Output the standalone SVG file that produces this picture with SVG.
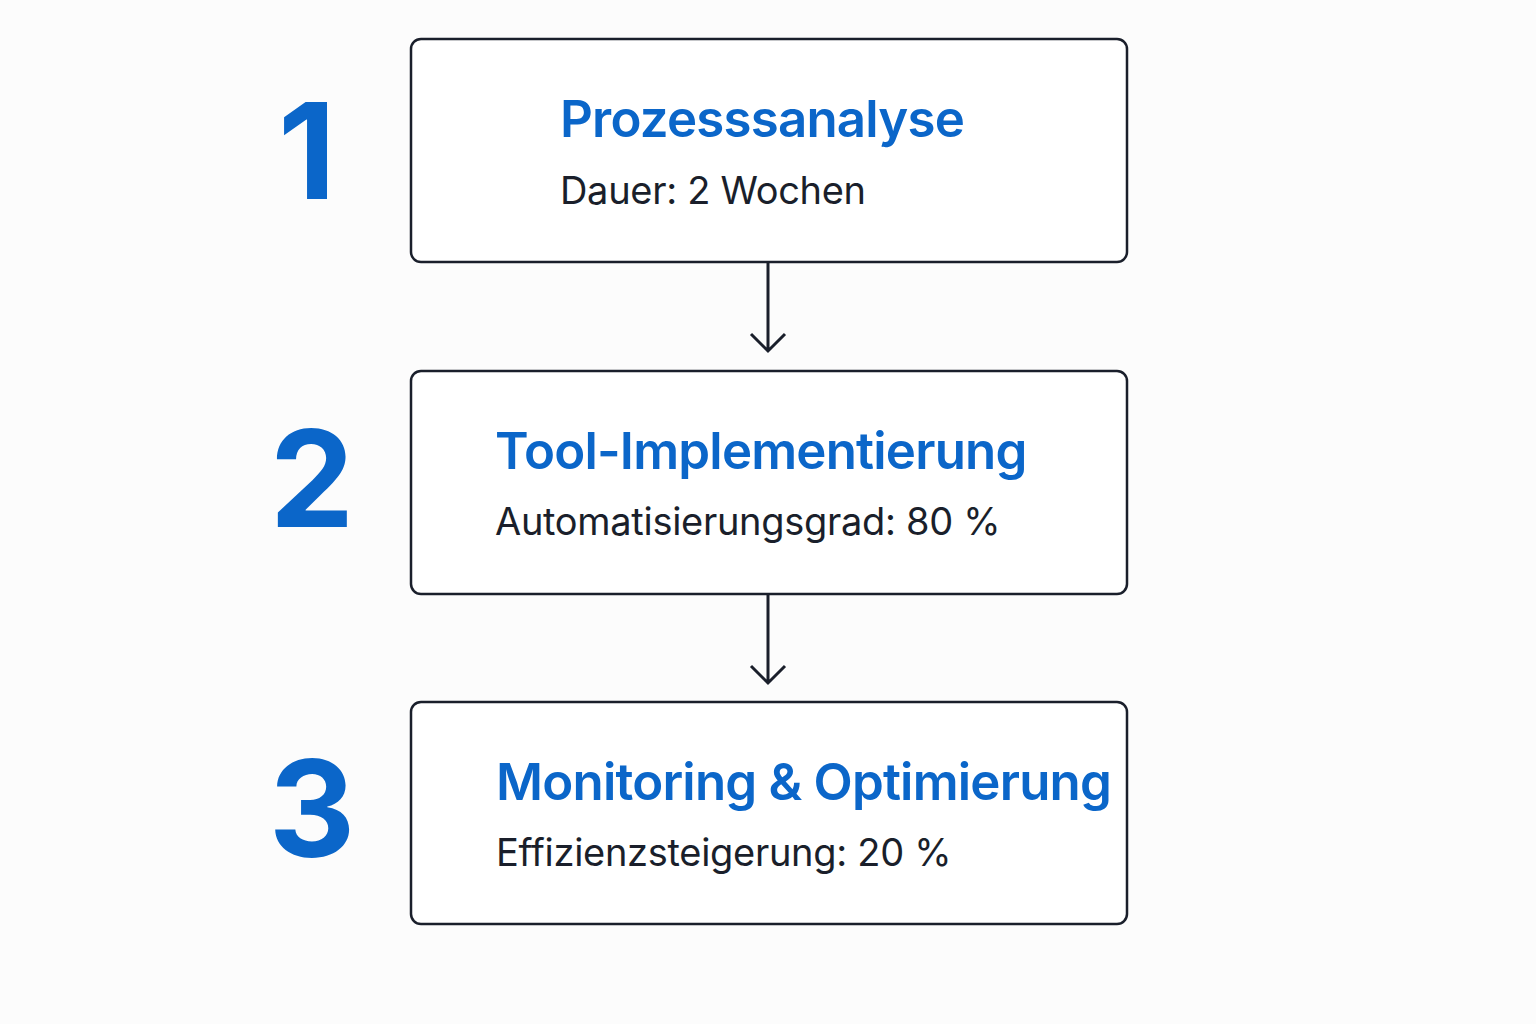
<svg xmlns="http://www.w3.org/2000/svg" width="1536" height="1024" viewBox="0 0 1536 1024">
<style>
.box{fill:#fff;stroke:#1a1f2b;stroke-width:2.5}
.num{font-family:Inter,"Liberation Sans",sans-serif;font-weight:700;font-size:134px;fill:#0b66c9}
.t{font-family:Inter,"Liberation Sans",sans-serif;font-weight:600;font-size:51px;fill:#0b66c9;letter-spacing:-0.8px}
.s{font-family:Inter,"Liberation Sans",sans-serif;font-size:38px;fill:#1a1f2b;letter-spacing:-0.3px}
.c{stroke:#1a1f2b;stroke-width:3;fill:none}
</style>
<rect width="1536" height="1024" fill="#fcfcfc"/>
<g id="connectors">
<path class="c" d="M768 263V350M751 334L768 351L785 334"/>
<path class="c" d="M768 595V682M751 666L768 683L785 666"/>
</g>
<g id="n1"><rect class="box" x="411" y="39" width="716" height="223" rx="10"/>
<text class="num" x="307" y="199" text-anchor="middle">1</text>
<text class="t" x="560" y="137">Prozesssanalyse</text>
<text class="s" x="560" y="204">Dauer: 2 Wochen</text></g>
<g id="n2"><rect class="box" x="411" y="371" width="716" height="223" rx="10"/>
<text class="num" x="312" y="527" text-anchor="middle">2</text>
<text class="t" x="495" y="469">Tool-Implementierung</text>
<text class="s" x="495" y="535">Automatisierungsgrad: 80 %</text></g>
<g id="n3"><rect class="box" x="411" y="702" width="716" height="222" rx="10"/>
<text class="num" x="312" y="857" text-anchor="middle">3</text>
<text class="t" x="496" y="800">Monitoring &amp; Optimierung</text>
<text class="s" x="496" y="866">Effizienzsteigerung: 20 %</text></g>
</svg>
